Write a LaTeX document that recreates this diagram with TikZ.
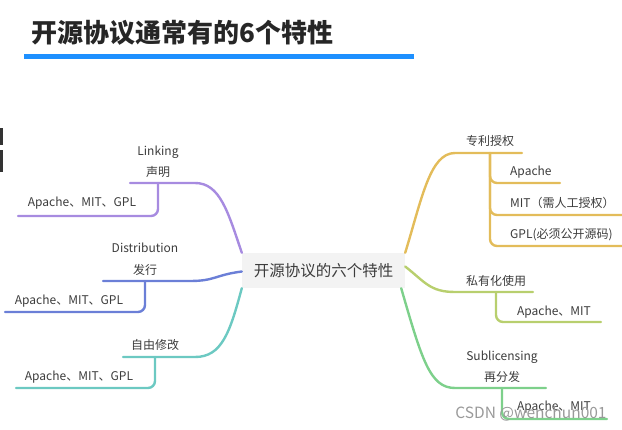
\documentclass[tikz,border=0pt]{standalone}
\usepackage{fontspec}
\setmainfont{Noto Sans CJK SC}
\usepackage{tikz}

\definecolor{titleblue}{RGB}{30,144,255}
\definecolor{boxgrey}{RGB}{243,243,243}
\definecolor{textgrey}{RGB}{60,60,60}
\definecolor{linkpurple}{RGB}{167,139,224}
\definecolor{distblue}{RGB}{107,127,215}
\definecolor{modteal}{RGB}{108,201,194}
\definecolor{patgold}{RGB}{227,188,90}
\definecolor{privgreen}{RGB}{184,207,110}
\definecolor{subgreen}{RGB}{125,208,139}

\begin{document}
\begin{tikzpicture}[x=1pt, y=-1pt,
    lbl/.style={font=\fontsize{12}{14}\selectfont, text=textgrey, inner sep=1pt},
    branch/.style={line width=2.4pt, line cap=round},
    sub/.style={branch, rounded corners=7pt}]
    \useasboundingbox (0,0) rectangle (622,430);

    % title and bar
    \node[anchor=west, inner sep=0pt, text=black!85, font=\fontsize{26}{30}\selectfont\bfseries] (title) at (31,33) {开源协议通常有的6个特性};
    \draw[titleblue, line width=5pt] (24,57) -- (414,57);
    \fill[black!80] (0,128) rectangle (3,145);
    \fill[black!80] (0,150) rectangle (3,172);

    % root
    \node[fill=boxgrey, text=textgrey, minimum width=163, minimum height=35, font=\fontsize{15.5}{18}\selectfont] (root) at (323.5,270.5) {开源协议的六个特性};

    % left side
    \node[lbl] (link) at (158,152) {Linking};
    \node[lbl] (linkcn) at (158,172) {声明};
    \node[lbl] (linkapp) at (82,203) {Apache、MIT、GPL};
    \coordinate (linkL) at (130,183);
    \coordinate (linkA) at (18,216);
    \draw[branch, linkpurple] (root.north west) .. controls (228,212) and (220,183) .. (195,183) -- (linkL);
    \draw[sub, linkpurple] (linkcn.south |- linkL) |- (linkA);

    \node[lbl] (dist) at (145,248) {Distribution};
    \node[lbl] (distcn) at (145,270) {发行};
    \node[lbl] (distapp) at (69,301) {Apache、MIT、GPL};
    \coordinate (distL) at (103,281);
    \coordinate (distA) at (5,312);
    \draw[branch, distblue] ([yshift=-1]root.west) .. controls (215,275) and (215,281) .. (190,281) -- (distL);
    \draw[sub, distblue] (distcn.south |- distL) |- (distA);

    \node[lbl] (mod) at (155,345) {自由修改};
    \node[lbl] (modapp) at (79,377) {Apache、MIT、GPL};
    \coordinate (modL) at (123,357);
    \coordinate (modA) at (16,388);
    \draw[branch, modteal] (root.south west) .. controls (230,332) and (222,357) .. (195,357) -- (modL);
    \draw[sub, modteal] (mod.south |- modL) |- (modA);

    % right side
    \node[lbl] (pat) at (490,141) {专利授权};
    \node[lbl, anchor=west] (patapa) at (509,172) {Apache};
    \node[lbl, anchor=west] (patmit) at (509,203) {MIT（需人工授权）};
    \node[lbl, anchor=west] (patgpl) at (509,235) {GPL(必须公开源码)};
    \coordinate (patR) at (522,153);
    \coordinate (patA) at (560,183);
    \coordinate (patB) at (622,215);
    \coordinate (patC) at (622,246);
    \draw[branch, patgold] (root.north east) .. controls (422,198) and (430,153) .. (455,153) -- (patR);
    \draw[sub, patgold] (pat.south |- patR) |- (patA);
    \draw[sub, patgold] (pat.south |- patR) |- (patB);
    \draw[sub, patgold] (pat.south |- patR) |- (patC);

    \node[lbl] (priv) at (496,281) {私有化使用};
    \node[lbl] (privapp) at (554,312) {Apache、MIT};
    \coordinate (privR) at (533,292);
    \coordinate (privA) at (601,322);
    \draw[branch, privgreen] ([yshift=4]root.east) .. controls (425,282) and (430,292) .. (455,292) -- (privR);
    \draw[sub, privgreen] (priv.south |- privR) |- (privA);

    \node[lbl] (subl) at (502,357) {Sublicensing};
    \node[lbl] (sublcn) at (502,377) {再分发};
    \node[lbl] (sublapp) at (554,407) {Apache、MIT};
    \coordinate (sublR) at (546,388);
    \coordinate (sublA) at (607,419);
    \draw[branch, subgreen] ([xshift=-4]root.south east) .. controls (422,360) and (430,388) .. (455,388) -- (sublR);
    \draw[sub, subgreen] (sublcn.south |- sublR) |- (sublA);

    % watermark
    \node[text=black!40, font=\fontsize{15.5}{18}\selectfont, inner sep=0pt] (mark) at (531,414) {CSDN @wenchun001};
\end{tikzpicture}
\end{document}
